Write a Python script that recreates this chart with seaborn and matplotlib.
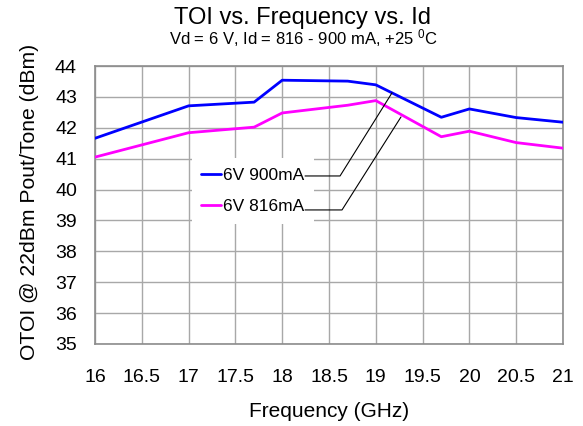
import matplotlib
matplotlib.use("Agg")
import matplotlib.pyplot as plt
import seaborn as sns
import pandas as pd
from matplotlib.lines import Line2D

freq = [16.0, 17.0, 17.7, 18.0, 18.7, 19.0, 19.7, 20.0, 20.5, 21.0]
toi_900 = [41.66, 42.71, 42.83, 43.54, 43.51, 43.39, 42.34, 42.61, 42.33, 42.18]
toi_816 = [41.05, 41.84, 42.02, 42.48, 42.73, 42.88, 41.71, 41.89, 41.52, 41.34]
series = ["6V 900mA", "6V 816mA"]
colors = ["#0000FF", "#FF00FF"]
xticks = [16, 16.5, 17, 17.5, 18, 18.5, 19, 19.5, 20, 20.5, 21]
yticks = list(range(35, 45))

df = pd.concat([
    pd.DataFrame({"Frequency": freq, "TOI": toi_900, "Series": series[0]}),
    pd.DataFrame({"Frequency": freq, "TOI": toi_816, "Series": series[1]}),
])

sns.set_theme(style="white")
plt.rcParams["font.family"] = ["Liberation Sans", "DejaVu Sans"]
plt.rcParams["mathtext.fontset"] = "custom"
plt.rcParams["mathtext.rm"] = "Liberation Sans"
plt.rcParams["mathtext.it"] = "Liberation Sans"
plt.rcParams["text.color"] = "black"
plt.rcParams["axes.labelcolor"] = "black"

fig = plt.figure(figsize=(5.83, 4.26), dpi=100)
ax = fig.add_axes([95/583, 1-344/426, 468/583, 278/426])

sns.lineplot(data=df, x="Frequency", y="TOI", hue="Series", palette=colors,
             hue_order=series, linewidth=2.0, ax=ax, legend=False, zorder=3)

ax.set_xlim(16, 21)
ax.set_ylim(35, 44)
ax.set_xticks(xticks)
ax.set_xticklabels([f"{t:g}" for t in xticks])
ax.set_yticks(yticks)
ax.grid(True, color="#A8A8A8", linewidth=1.0)
ax.set_axisbelow(True)
for s in ax.spines.values():
    s.set_color("#8C8C8C")
    s.set_linewidth(1.2)
ax.tick_params(axis="both", length=0, labelsize=14, colors="black")
ax.tick_params(axis="x", pad=18)
ax.tick_params(axis="y", pad=13)

ax.set_xlabel("Frequency (GHz)", fontsize=15)
ax.set_ylabel("OTOI @ 22dBm Pout/Tone (dBm)", fontsize=15.2)
ax.xaxis.set_label_coords(0.5, -0.21)
ax.yaxis.set_label_coords(-0.12, 0.51)

fig.text(302/583, 1-18/426, "TOI vs. Frequency vs. Id", ha="center", va="center", fontsize=17)
fig.text(303/583, 1-38/426, r"Vd = 6 V, Id = 816 - 900 mA, +25 $^{0}$C", ha="center", va="center", fontsize=12)

handles = [Line2D([], [], color=c, linewidth=2.0) for c in colors]
leg = ax.legend(handles, series, loc="upper left", bbox_to_anchor=(0.207, 0.669),
                frameon=True, facecolor="white", edgecolor="none", framealpha=1,
                fancybox=False, fontsize=12.5, handlelength=1.15, handletextpad=0.1,
                labelspacing=0.95, borderpad=0.55, borderaxespad=0)
leg.set_zorder(2)

# leader lines
ax.plot([18.244, 18.618, 19.173], [40.44, 40.44, 43.13], color="black", linewidth=0.8, zorder=4)
ax.plot([18.244, 18.639, 19.269], [39.34, 39.34, 42.35], color="black", linewidth=0.8, zorder=4)

fig.savefig("out.png", dpi=100)
